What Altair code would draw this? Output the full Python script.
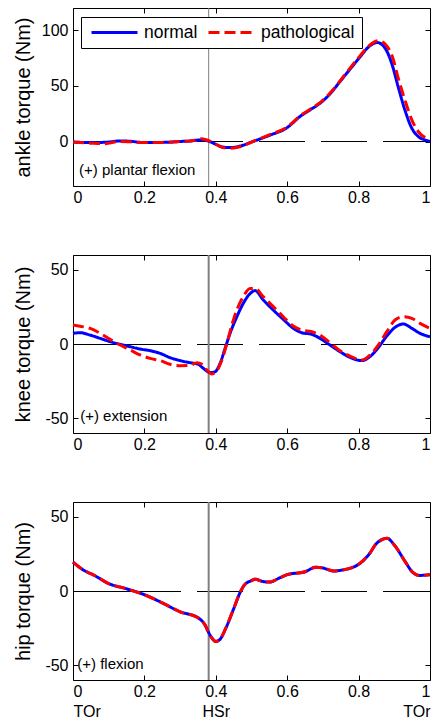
import altair as alt
import pandas as pd

FONT = "Liberation Sans"
W, H = 357, 178
HS = 0.38
X_TICKS = [0, 0.2, 0.4, 0.6, 0.8, 1.0]
SERIES = ["normal", "pathological"]

# ---------------- ankle ----------------
ankle_t_n = [0, 0.05, 0.1, 0.13, 0.16, 0.2, 0.25, 0.3, 0.33, 0.36, 0.38, 0.4, 0.42, 0.44, 0.47, 0.5,
             0.55, 0.6, 0.636, 0.664, 0.692, 0.72, 0.748, 0.776, 0.804, 0.827, 0.852, 0.874, 0.893,
             0.911, 0.93, 0.949, 0.967, 0.985, 1.0]
ankle_n = [-0.5, -1, -0.5, 0.5, 0.2, -1, -0.8, 0, 0.5, 1.5, 0.3, -2.5, -5, -5.5, -4, -0.5,
           5.5, 12.5, 22.5, 28.4, 34.4, 42.8, 53.9, 65, 76, 84.7, 89, 84, 70,
           49, 28, 12, 4.5, 1.5, 0]
ankle_t_p = [0, 0.05, 0.09, 0.13, 0.16, 0.2, 0.25, 0.3, 0.33, 0.36, 0.38, 0.4, 0.42, 0.44, 0.47, 0.5,
             0.55, 0.6, 0.636, 0.664, 0.692, 0.72, 0.748, 0.776, 0.804, 0.827, 0.855, 0.876, 0.895,
             0.911, 0.93, 0.949, 0.967, 0.985, 1.0]
ankle_p = [-0.5, -1.5, -2, 0, -0.3, -1, -1, 0, 0.5, 2.5, 0.8, -2.5, -5.5, -6, -4.5, -0.5,
           6, 13, 23, 29, 35, 43.5, 54.5, 66, 77, 85.5, 90.7, 87, 76,
           57, 37, 19.5, 9, 4, 3]

# ---------------- knee ----------------
knee_t_n = [0, 0.02, 0.048, 0.076, 0.104, 0.132, 0.16, 0.188, 0.216, 0.244, 0.272, 0.3, 0.328, 0.351,
            0.365, 0.384, 0.398, 0.412, 0.426, 0.44, 0.459, 0.477, 0.496, 0.51, 0.533, 0.561, 0.589,
            0.617, 0.641, 0.669, 0.692, 0.72, 0.748, 0.776, 0.809, 0.832, 0.855, 0.879, 0.902, 0.925,
            0.949, 0.972, 1.0]
knee_n = [7.2, 7.6, 6, 3.8, 1.6, -0.2, -1.8, -3.4, -4.5, -6.3, -9.2, -11.2, -12.6, -13.7,
          -16.4, -19.3, -18.7, -13, -3, 7.2, 18.4, 27.4, 34, 36, 29.7, 22.9, 16.6,
          10.6, 7.6, 6.5, 3.8, -0.7, -5.2, -9, -11.2, -8.5, -2.5, 5.4, 11.2, 13.5,
          10.6, 7.2, 4.9]
knee_t_p = [0, 0.02, 0.048, 0.076, 0.104, 0.132, 0.16, 0.188, 0.216, 0.244, 0.272, 0.3, 0.328, 0.347,
            0.361, 0.375, 0.389, 0.403, 0.417, 0.431, 0.445, 0.459, 0.477, 0.496, 0.51, 0.533, 0.561,
            0.589, 0.617, 0.641, 0.669, 0.692, 0.72, 0.748, 0.776, 0.809, 0.832, 0.855, 0.879, 0.902,
            0.925, 0.949, 0.972, 1.0]
knee_p = [12.8, 12, 10.5, 7.2, 3.1, -0.7, -4, -7.4, -9.7, -11.2, -13.7, -14.6, -14.4, -12.6,
          -13.7, -17.5, -20.2, -18, -10.8, 0.4, 12.8, 23, 32, 37.5, 37.5, 31.9, 25.2,
          18.4, 12.1, 9.4, 8.3, 6, 0.9, -4.5, -8.1, -10.8, -7.4, -0.7, 8.3, 16.2,
          18.4, 17.3, 13.9, 10.6]

# ---------------- hip ----------------
hip_t = [0, 0.03, 0.06, 0.1, 0.15, 0.2, 0.25, 0.3, 0.35, 0.37, 0.38, 0.39, 0.4, 0.41, 0.43, 0.45,
         0.47, 0.48, 0.5, 0.51, 0.53, 0.55, 0.58, 0.6, 0.65, 0.68, 0.7, 0.73, 0.75, 0.8, 0.83,
         0.85, 0.88, 0.9, 0.93, 0.95, 0.97, 1.0]
hip_n = [19.5, 14, 10.5, 5, 1.5, -2.5, -8, -14, -18, -23, -28, -32, -34, -33, -24, -12,
         0, 4, 7, 8, 6.5, 6, 9, 11, 13, 16, 15.5, 13.5, 14, 18, 25,
         32, 35.5, 31, 20, 13, 10.5, 11]
hip_p = hip_n

# ---------------- annotations ----------------
NOTES = ["(+) plantar flexion", "(+) extension", "(+) flexion"]
TITLES = ["ankle torque (Nm)", "knee torque (Nm)", "hip torque (Nm)"]


def long_df(tn, vn, tp, vp):
    a = pd.DataFrame({"t": tn, "v": vn, "series": SERIES[0]})
    b = pd.DataFrame({"t": tp, "v": vp, "series": SERIES[1]})
    return pd.concat([a, b], ignore_index=True)


def tick_axis(orient, values, size_off):
    return alt.Axis(orient=orient, values=values, labels=False, domain=False, grid=False,
                    ticks=True, tickSize=5, tickColor="black", tickWidth=1, title=None,
                    offset=-size_off)


def panel(df, ydom, yticks, ytitle, note, note_x, note_y, rule_w, zero_off, show_legend,
          bottom_labels):
    xs = alt.Scale(domain=[0, 1], nice=False, zero=False)
    ys = alt.Scale(domain=ydom, nice=False, zero=False)
    if bottom_labels:
        lab = ("datum.value == 0 ? ['0','TOr'] : datum.value == 0.4 ? ['0.4','HSr'] : "
               "datum.value == 1 ? ['1','TOr'] : '' + datum.value")
    else:
        lab = "'' + datum.value"
    x_main = alt.Axis(orient="bottom", values=X_TICKS, ticks=False, domain=False,
                      grid=False, title=None, labelExpr=lab, labelPadding=3, labelFontSize=16,
                      labelLineHeight=20, labelFont=FONT, labelColor="black")
    y_main = alt.Axis(orient="left", values=yticks, labelExpr="'' + datum.value", ticks=False,
                      domain=False, grid=False,
                      title=ytitle, titleX=-40, titleY=H / 2, titleFontSize=20,
                      titleFontWeight="normal", titleFont=FONT, titleColor="black",
                      labelPadding=5, labelFontSize=16, labelFont=FONT, labelColor="black")
    if show_legend:
        leg = alt.Legend(orient="none", legendX=8, legendY=9, direction="horizontal", title=None,
                         symbolType="stroke", symbolSize=2116, symbolStrokeWidth=3,
                         symbolOffset=2, clipHeight=17,
                         labelFontSize=17.5, labelFont=FONT, labelColor="black",
                         strokeColor="black", fillColor="white", padding=7, labelOffset=5,
                         columnPadding=7)
    else:
        leg = None
    lines = alt.Chart(df).mark_line(strokeWidth=3, interpolate="monotone").encode(
        x=alt.X("t:Q", scale=xs, axis=x_main),
        y=alt.Y("v:Q", scale=ys, axis=y_main),
        color=alt.Color("series:N", scale=alt.Scale(domain=SERIES, range=["#0000ff", "#ff0000"]),
                        legend=leg),
        strokeDash=alt.StrokeDash("series:N", scale=alt.Scale(domain=SERIES, range=[[1, 0], [11, 5]]),
                                  legend=leg),
    )
    zero_df = pd.DataFrame({"x0": [0], "x1": [1], "y0": [0]})
    zero_dash = alt.Chart(zero_df).mark_rule(color="black", strokeWidth=1, strokeDash=[46, 16],
                                             yOffset=zero_off).encode(
        x=alt.X("x0:Q", scale=xs, axis=tick_axis("top", X_TICKS, H)),
        x2="x1:Q",
        y=alt.Y("y0:Q", scale=ys, axis=tick_axis("right", yticks, W)),
    )
    solid_df = pd.DataFrame({"x0": [0], "x1": [0.3], "y0": [0]})
    zero_solid = alt.Chart(solid_df).mark_rule(color="black", strokeWidth=1,
                                               yOffset=zero_off).encode(
        x=alt.X("x0:Q", scale=xs, axis=None),
        x2="x1:Q",
        y=alt.Y("y0:Q", scale=ys, axis=None),
    )
    hs_df = pd.DataFrame({"xh": [HS], "ya": [ydom[0]], "yb": [ydom[1]]})
    hs_rule = alt.Chart(hs_df).mark_rule(color="#7f7f7f", strokeWidth=rule_w).encode(
        x=alt.X("xh:Q", scale=xs, axis=tick_axis("bottom", X_TICKS, H)),
        y=alt.Y("ya:Q", scale=ys, axis=tick_axis("left", yticks, W)),
        y2="yb:Q",
    )
    note_df = pd.DataFrame({"xn": [note_x], "yn": [note_y], "txt": [note]})
    note_txt = alt.Chart(note_df).mark_text(align="left", baseline="alphabetic", fontSize=15,
                                            font=FONT, color="black").encode(
        x=alt.X("xn:Q", scale=xs, axis=None),
        y=alt.Y("yn:Q", scale=ys, axis=None),
        text="txt:N",
    )
    return alt.layer(zero_solid, zero_dash, hs_rule, lines, note_txt).resolve_axis(
        x="independent", y="independent").properties(width=W, height=H)


p1 = panel(long_df(ankle_t_n, ankle_n, ankle_t_p, ankle_p), [-40, 120], [0, 50, 100],
           TITLES[0], NOTES[0], 0.017, -30, 1, 0, True, False)
p2 = panel(long_df(knee_t_n, knee_n, knee_t_p, knee_p), [-60, 60], [-50, 0, 50],
           TITLES[1], NOTES[1], 0.02, -52, 2, 0.5, False, False)
p3 = panel(long_df(hip_t, hip_n, hip_t, hip_p), [-60, 60], [-50, 0, 50],
           TITLES[2], NOTES[2], 0.012, -52.5, 2, 0.5, False, True)

chart = alt.vconcat(p1, p2, p3, spacing=69, bounds="flush").resolve_scale(
    color="independent", strokeDash="independent"
).properties(
    padding={"left": 4, "top": -1, "right": -6, "bottom": 0},
    background="white",
).configure_view(stroke="black", strokeWidth=1)

chart.save("out.html", embed_options={"renderer": "svg", "actions": False})
